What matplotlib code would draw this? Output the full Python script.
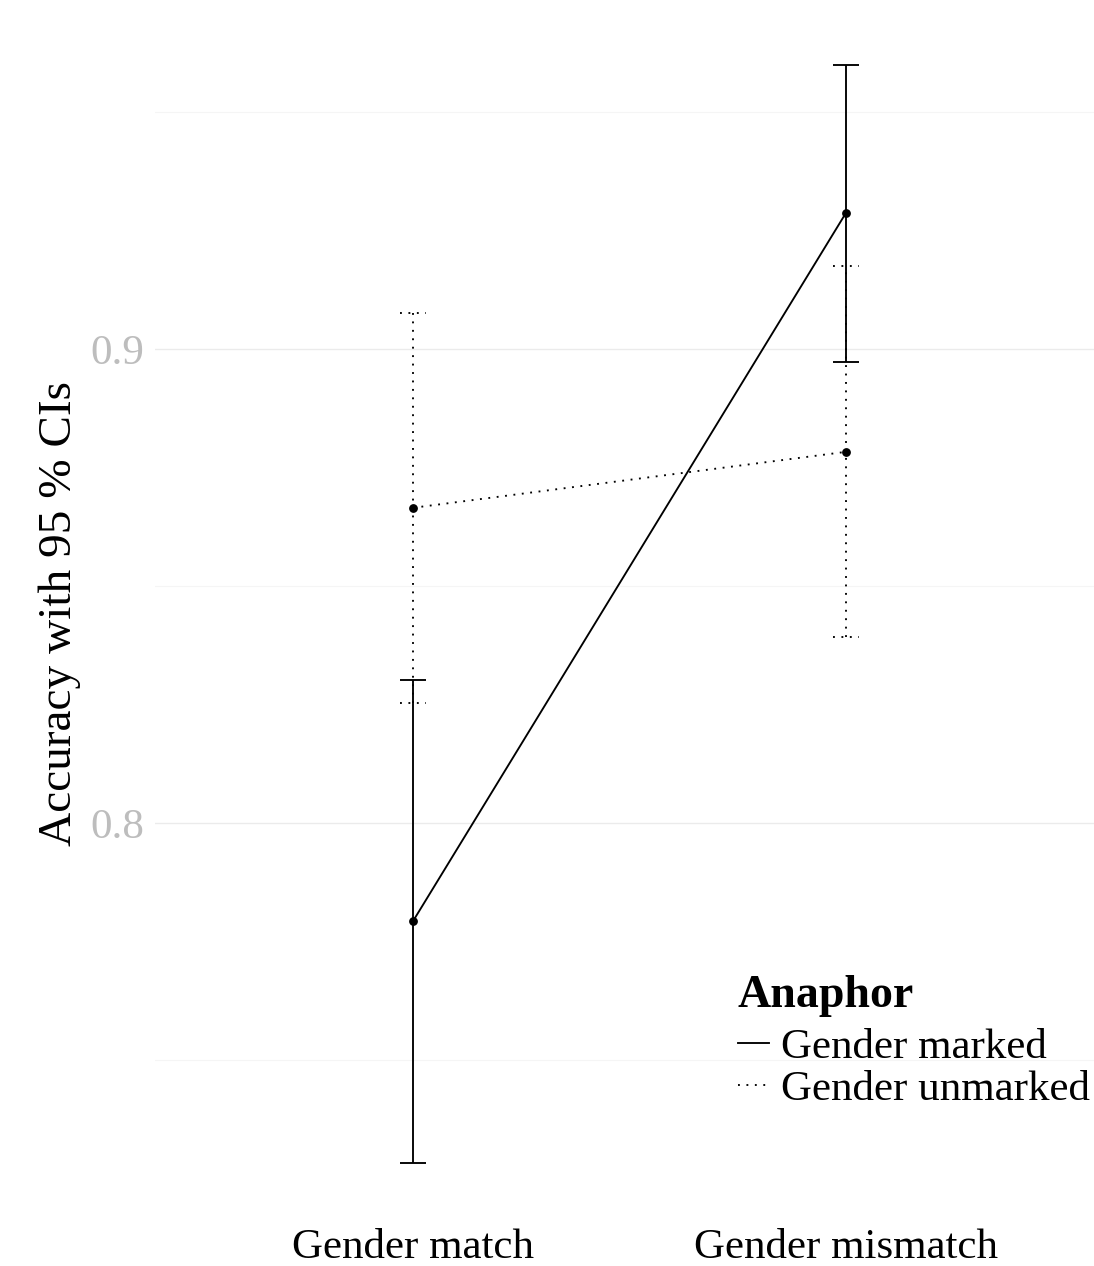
import matplotlib
matplotlib.use("Agg")
import matplotlib.pyplot as plt
from matplotlib.lines import Line2D

plt.rcParams['font.family'] = ['Liberation Serif', 'DejaVu Serif']

# data
conditions = ['Gender match', 'Gender mismatch']
groups = ['Gender marked', 'Gender unmarked']
accuracy = {
    'Gender marked': [0.7793, 0.9287],
    'Gender unmarked': [0.8665, 0.8783],
}
ci_low = {
    'Gender marked': [0.7283, 0.8973],
    'Gender unmarked': [0.8253, 0.8392],
}
ci_high = {
    'Gender marked': [0.8302, 0.9599],
    'Gender unmarked': [0.9076, 0.9175],
}
styles = {
    'Gender marked': '-',
    'Gender unmarked': (0, (1, 3.5)),
}

W, H = 1094, 1266
fig = plt.figure(figsize=(W / 100, H / 100), dpi=100)
ax = fig.add_axes([155 / W, 1 - 1219 / H, (W - 155) / W, 1212 / H])

xs = [1, 2]
cap = 0.031
lw = 1.35

for g in groups:
    ls = styles[g]
    ax.plot(xs, accuracy[g], color='black', lw=lw, linestyle=ls, zorder=3)
    ax.vlines(xs, ci_low[g], ci_high[g], color='black', lw=lw, linestyles=[ls], zorder=3)
    for x, lo, hi in zip(xs, ci_low[g], ci_high[g]):
        ax.hlines([lo, hi], x - cap, x + cap, color='black', lw=lw, linestyles=[ls], zorder=3)
    ax.plot(xs, accuracy[g], 'o', color='black', ms=5.3, zorder=4)

ax.set_xlim(0.404, 2.573)
ax.set_ylim(0.71646, 0.97215)

ax.set_xticks(xs)
ax.set_xticklabels(conditions, fontsize=31, color='black')
ax.set_yticks([0.8, 0.9])
ax.set_yticklabels(['0.8', '0.9'], fontsize=31, color='#bdbdbd')
ax.set_yticks([0.75, 0.85, 0.95], minor=True)
ax.tick_params(axis='both', which='both', length=0)
ax.tick_params(axis='y', pad=8)
ax.tick_params(axis='x', pad=7)

ax.grid(True, axis='y', which='major', color='#ebebeb', lw=1.0)
ax.grid(True, axis='y', which='minor', color='#f5f5f5', lw=0.8)
ax.set_axisbelow(True)
for s in ax.spines.values():
    s.set_visible(False)

ax.set_ylabel('Accuracy with 95 % CIs', fontsize=34, va='center')
ax.yaxis.set_label_coords(-0.101, 0.5)

handles = [Line2D([], [], color='black', lw=lw, linestyle=styles[g]) for g in groups]
leg = fig.legend(handles, groups, loc='upper left', bbox_to_anchor=(738 / W, 1 - 975 / H),
                 frameon=False, fontsize=31, title='Anaphor', alignment='left',
                 handlelength=0.72, handletextpad=0.28, labelspacing=0.07,
                 borderpad=0, borderaxespad=0)
leg.get_title().set_fontsize(33)
leg.get_title().set_fontweight('bold')
leg._legend_box.sep = 8

fig.savefig('out.png', dpi=100, facecolor='white')
